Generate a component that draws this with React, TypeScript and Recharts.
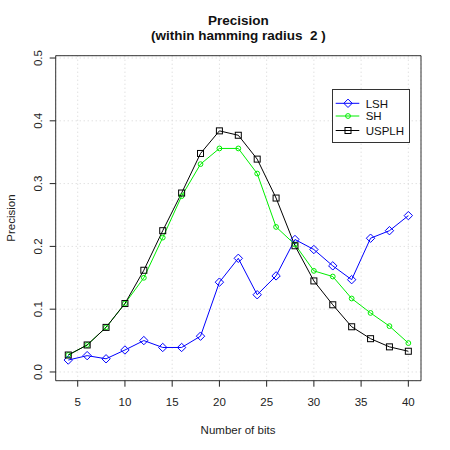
import React from 'react';
import { LineChart, Line, XAxis, YAxis, CartesianGrid, ReferenceArea } from 'recharts';

const bits = [4, 6, 8, 10, 12, 14, 16, 18, 20, 22, 24, 26, 28, 30, 32, 34, 36, 38, 40];
const lsh = [0.019, 0.026, 0.021, 0.035, 0.050, 0.039, 0.039, 0.057, 0.143, 0.181, 0.123, 0.153, 0.211, 0.195, 0.169, 0.147, 0.213, 0.225, 0.249];
const sh = [0.027, 0.043, 0.071, 0.109, 0.150, 0.214, 0.280, 0.331, 0.356, 0.356, 0.316, 0.231, 0.203, 0.161, 0.152, 0.117, 0.094, 0.073, 0.046];
const usplh = [0.027, 0.043, 0.071, 0.109, 0.162, 0.225, 0.285, 0.348, 0.384, 0.377, 0.339, 0.277, 0.201, 0.145, 0.107, 0.072, 0.053, 0.040, 0.033];

const xTicks = [5, 10, 15, 20, 25, 30, 35, 40];
const yTicks = [0, 0.1, 0.2, 0.3, 0.4, 0.5];
const seriesNames = ['LSH', 'SH', 'USPLH'];
const seriesColors = ['#0000ff', '#00ee00', '#000000'];

const data = bits.map((b, i) => ({ bits: b, LSH: lsh[i], SH: sh[i], USPLH: usplh[i] }));

const FONT = '"Liberation Sans", Arial, sans-serif';
const X_DOMAIN: [number, number] = [2.67, 41.34];
const Y_DOMAIN: [number, number] = [-0.0139, 0.5037];

const diamondPath = (cx: number, cy: number) =>
  `M${cx},${cy - 4.2}L${cx + 4.2},${cy}L${cx},${cy + 4.2}L${cx - 4.2},${cy}Z`;

const DiamondDot = (props: any) => {
  const { cx, cy, index } = props;
  if (cx == null || cy == null) return <g key={index} />;
  return <path key={index} d={diamondPath(cx, cy)} fill="none" stroke={seriesColors[0]} strokeWidth={1} />;
};
const CircleDot = (props: any) => {
  const { cx, cy, index } = props;
  if (cx == null || cy == null) return <g key={index} />;
  return <circle key={index} cx={cx} cy={cy} r={2.4} fill="none" stroke={seriesColors[1]} strokeWidth={1} />;
};
const SquareDot = (props: any) => {
  const { cx, cy, index } = props;
  if (cx == null || cy == null) return <g key={index} />;
  return <rect key={index} x={cx - 3} y={cy - 3} width={6} height={6} fill="none" stroke={seriesColors[2]} strokeWidth={1} />;
};

const YTick = (props: any) => {
  const { x, y, payload } = props;
  return (
    <text x={x} y={y} transform={`rotate(-90 ${x} ${y})`} textAnchor="middle" fontSize={11.5} fill="#222" fontFamily={FONT}>
      {Number(payload.value).toFixed(1)}
    </text>
  );
};

const LegendBox = () => {
  const rows = [14.3, 27, 41.5];
  return (
    <svg width={78} height={54} style={{ display: 'block', position: 'absolute', left: 332, top: 89 }}>
      <rect x={0.5} y={0.5} width={77} height={53} fill="#fff" stroke="#333" strokeWidth={1} />
      {seriesNames.map((n, i) => {
        const y = rows[i];
        const c = seriesColors[i];
        return (
          <g key={n}>
            <line x1={3.7} x2={27.3} y1={y} y2={y} stroke={c} strokeWidth={1} />
            {i === 0 && <path d={diamondPath(16, y)} fill="none" stroke={c} />}
            {i === 1 && <circle cx={16} cy={y} r={2.4} fill="none" stroke={c} />}
            {i === 2 && <rect x={13} y={y - 3} width={6} height={6} fill="none" stroke={c} />}
            <text x={33.7} y={y + 4.2} fontSize={11.5} fill="#111" fontFamily={FONT}>{n}</text>
          </g>
        );
      })}
    </svg>
  );
};

export default function App() {
  return (
    <div style={{ position: 'absolute', left: 0, top: 0, width: 450, height: 450, background: '#fff' }}>
      <LineChart width={450} height={450} data={data} margin={{ top: 55.7, right: 29, bottom: 39.3, left: 15.7 }}>
        <CartesianGrid stroke="#d3d3d3" strokeDasharray="1 3" />
        <XAxis
          type="number"
          dataKey="bits"
          domain={X_DOMAIN}
          ticks={xTicks}
          allowDataOverflow
          height={30}
          axisLine={false}
          tickLine={{ stroke: '#222' }}
          tickSize={6}
          tickMargin={11}
          tick={{ fontSize: 11.5, fill: '#222', fontFamily: FONT }}
        />
        <YAxis
          type="number"
          domain={Y_DOMAIN}
          ticks={yTicks}
          allowDataOverflow
          width={40}
          axisLine={false}
          tickLine={{ stroke: '#222' }}
          tickSize={6}
          tickMargin={7.5}
          tick={<YTick />}
        />
        <ReferenceArea x1={X_DOMAIN[0]} x2={X_DOMAIN[1]} y1={Y_DOMAIN[0]} y2={Y_DOMAIN[1]} fill="none" fillOpacity={0} stroke="#333" strokeWidth={1} strokeOpacity={1} />
        <Line dataKey="LSH" stroke={seriesColors[0]} strokeWidth={1} dot={DiamondDot} isAnimationActive={false} />
        <Line dataKey="SH" stroke={seriesColors[1]} strokeWidth={1} dot={CircleDot} isAnimationActive={false} />
        <Line dataKey="USPLH" stroke={seriesColors[2]} strokeWidth={1} dot={SquareDot} isAnimationActive={false} />
      </LineChart>
      <LegendBox />
      <svg width={450} height={450} style={{ position: 'absolute', left: 0, top: 0, pointerEvents: 'none' }}>
        <text x={238.3} y={25} textAnchor="middle" fontSize={13.5} fontWeight="bold" fill="#111" fontFamily={FONT}>Precision</text>
        <text x={238.3} y={40} textAnchor="middle" fontSize={13.5} fontWeight="bold" fill="#111" fontFamily={FONT} style={{ whiteSpace: 'pre' }}>(within hamming radius  2 )</text>
        <text x={238} y={434} textAnchor="middle" fontSize={11.5} fill="#222" fontFamily={FONT}>Number of bits</text>
        <text x={15} y={218} transform="rotate(-90 15 218)" textAnchor="middle" fontSize={11.5} fill="#222" fontFamily={FONT}>Precision</text>
      </svg>
    </div>
  );
}
